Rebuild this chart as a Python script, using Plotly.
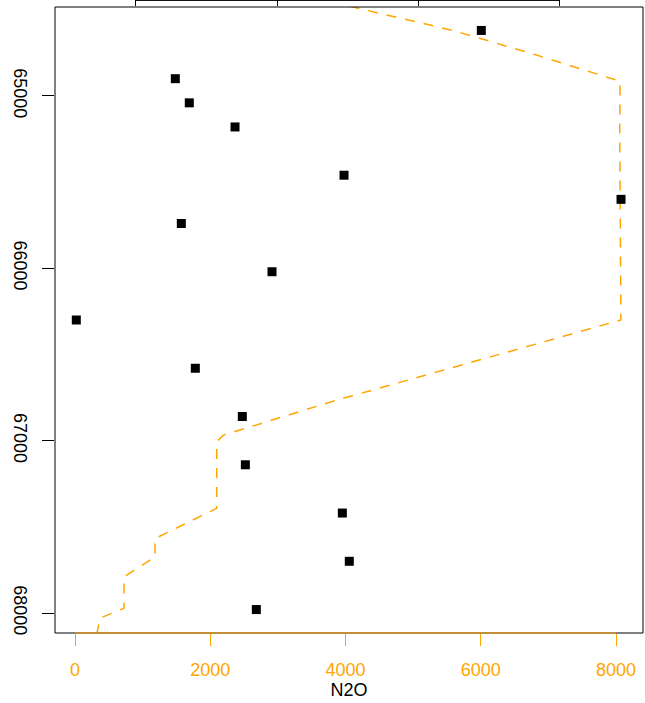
import plotly.graph_objects as go

# Black square points (age, value)
point_age = [64620, 64900, 65040, 65180, 65460, 65600, 65740, 66020,
             66300, 66580, 66860, 67140, 67420, 67700, 67980]
point_val = [6008, 1483, 1690, 2366, 3978, 8074, 1572, 2913,
             19, 1779, 2474, 2519, 3953, 4056, 2681]

# Orange dashed N2O curve (age, value)
n2o_age = [64480, 64621, 64760, 64915, 65200, 65600, 66200, 66300,
           66437, 66529, 66765, 66968, 67007, 67393, 67568, 67674,
           67790, 67972, 68030, 68116]
n2o_val = [4060, 5600, 6800, 8060, 8055, 8063, 8080, 8072,
           6840, 6014, 3870, 2193, 2095, 2095, 1183, 1183,
           725, 725, 370, 325]

x_ticks = [0, 2000, 4000, 6000, 8000]
y_ticks = [65000, 66000, 67000, 68000]
y_tick_labels = ["65000", "66000", "67000", "68000"]
top_ticks = [892, 2990, 5077, 7168]

x_range = [-296, 8399]
y_range = [68116, 64484]

ORANGE = "#FFA500"
FONT = "Liberation Sans, Arial, sans-serif"

fig = go.Figure()
fig.add_trace(go.Scatter(
    x=n2o_val, y=n2o_age, mode="lines",
    line=dict(color=ORANGE, width=1.5, dash="10px,9px"),
    hoverinfo="skip", showlegend=False))
fig.add_trace(go.Scatter(
    x=point_val, y=point_age, mode="markers",
    marker=dict(symbol="square", size=9, color="black"),
    showlegend=False))
# invisible trace to activate the top axis
fig.add_trace(go.Scatter(x=[top_ticks[0]], y=[point_age[0]], xaxis="x2",
                         mode="markers", marker=dict(opacity=0),
                         hoverinfo="skip", showlegend=False))

fig.update_layout(
    width=645, height=703,
    margin=dict(l=55, r=2, t=7, b=70, autoexpand=False),
    paper_bgcolor="white", plot_bgcolor="white",
    font=dict(family=FONT, size=18, color="black"),
    xaxis=dict(range=x_range, showgrid=False, zeroline=False, showline=False,
               automargin=False,
               tickvals=x_ticks, ticks="outside", ticklen=12, tickwidth=1,
               tickcolor=ORANGE, tickfont=dict(color=ORANGE, size=18),
               ticklabelstandoff=8,
               title=dict(text="N2O", font=dict(color="black", size=18),
                          standoff=4)),
    xaxis2=dict(range=x_range, overlaying="x", side="top", showgrid=False,
                automargin=False,
                zeroline=False, showline=False, tickvals=top_ticks,
                ticks="outside", ticklen=7, tickcolor="black",
                showticklabels=False),
    yaxis=dict(range=y_range, showgrid=False, zeroline=False, showline=False,
               automargin=False,
               tickvals=y_ticks, ticktext=y_tick_labels, ticks="outside",
               ticklen=12, tickcolor="black", tickangle=90,
               tickfont=dict(color="black", size=18), ticklabelstandoff=6),
    shapes=[
        dict(type="rect", xref="paper", yref="paper", x0=0, x1=1, y0=0, y1=1,
             line=dict(color="black", width=1)),
        dict(type="line", xref="x", yref="paper", x0=x_ticks[0], x1=x_ticks[-1],
             y0=0, y1=0, line=dict(color="#D8931F", width=1.5)),
        dict(type="line", xref="x2", yref="paper", x0=top_ticks[0],
             x1=top_ticks[-1], y0=1.0105, y1=1.0105,
             line=dict(color="black", width=1)),
    ],
)

fig.write_html("out.html",
               config={"displayModeBar": False},
               post_script="document.body.style.margin='0';"
                           "document.body.style.overflow='hidden';")
